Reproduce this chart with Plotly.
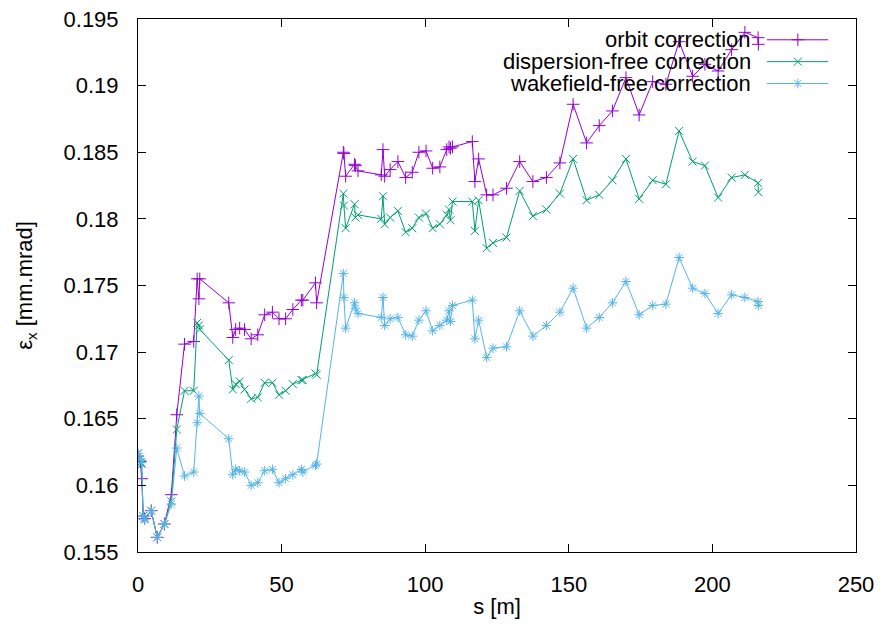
import plotly.graph_objects as go

# positions along the beamline [m]
s = [0, 0.8, 1.3, 1.8, 2.3, 4.6, 6.7, 9.2, 11.6, 13.5, 16.2, 19.4, 20.6, 21.2, 21.5,
     31.6, 33.0, 34.0, 35.4, 37.1, 39.4, 41.7, 44.1, 46.8, 49.1, 51.4, 53.9, 56.9, 57.4, 61.8, 62.2,
     71.5, 71.7, 72.3, 75.4, 75.7, 76.6, 84.7, 85.3, 85.9, 87.8, 90.5, 93.2, 95.5, 97.8, 100.3,
     102.6, 105.1, 107.5, 108.3, 108.8, 109.5, 116.4, 117.3, 118.6, 121.4, 123.6, 128.3, 132.9, 137.5,
     142.2, 146.9, 151.5, 156.2, 160.6, 165.2, 169.9, 174.5, 179.2, 183.8, 188.4, 193.1, 197.4,
     202.0, 206.7, 211.3, 215.9, 216.0]

orbit = [0.1622, 0.1618, 0.1605, 0.1577, 0.1575, 0.1581, 0.1561, 0.1571, 0.1593, 0.1653, 0.1706, 0.1708, 0.1755, 0.1740, 0.1755,
         0.1737, 0.1711, 0.1717, 0.1718, 0.1717, 0.1710, 0.1713, 0.1728, 0.1730, 0.1725, 0.1725, 0.1732, 0.1739, 0.1739, 0.1752, 0.1737,
         0.1850, 0.1849, 0.1832, 0.1841, 0.1840, 0.1836, 0.1833, 0.1852, 0.1832, 0.1837, 0.1843, 0.1831, 0.1835, 0.1850, 0.1851,
         0.1838, 0.1839, 0.1852, 0.1854, 0.1853, 0.1854, 0.1858, 0.1828, 0.1845, 0.1818, 0.1818, 0.1823, 0.1843, 0.1828,
         0.1831, 0.1842, 0.1886, 0.1857, 0.1870, 0.1881, 0.1906, 0.1878, 0.1903, 0.1901, 0.1933, 0.1907, 0.1916,
         0.1911, 0.1927, 0.1940, 0.1936, 0.1931]

dispersion_free = [0.1624, 0.1617, 0.1616, 0.1577, 0.1575, 0.1581, 0.1561, 0.1571, 0.1588, 0.1642, 0.1671, 0.1671, 0.1722, 0.1720, 0.1717,
                   0.1694, 0.1672, 0.1676, 0.1678, 0.1672, 0.1665, 0.1666, 0.1677, 0.1677, 0.1668, 0.1671, 0.1676, 0.1679, 0.1679, 0.1684, 0.1683,
                   0.1819, 0.1810, 0.1793, 0.1811, 0.1801, 0.1803, 0.1800, 0.1817, 0.1796, 0.1801, 0.1806, 0.1790, 0.1793, 0.1801, 0.1804,
                   0.1793, 0.1796, 0.1803, 0.1807, 0.1799, 0.1813, 0.1813, 0.1791, 0.1814, 0.1778, 0.1782, 0.1786, 0.1821, 0.1802,
                   0.1807, 0.1819, 0.1845, 0.1814, 0.1818, 0.1829, 0.1845, 0.1815, 0.1829, 0.1826, 0.1866, 0.1843, 0.1840,
                   0.1816, 0.1831, 0.1833, 0.1827, 0.1820]

wakefield_free = [0.1624, 0.1620, 0.1617, 0.1577, 0.1574, 0.1581, 0.1561, 0.1571, 0.1586, 0.1628, 0.1607, 0.1610, 0.1647, 0.1667, 0.1654,
                  0.1635, 0.1608, 0.1612, 0.1611, 0.1610, 0.1600, 0.1602, 0.1611, 0.1612, 0.1602, 0.1605, 0.1608, 0.1612, 0.1610, 0.1615, 0.1616,
                  0.1759, 0.1741, 0.1718, 0.1737, 0.1733, 0.1729, 0.1726, 0.1741, 0.1720, 0.1725, 0.1726, 0.1713, 0.1712, 0.1724, 0.1731,
                  0.1716, 0.1720, 0.1724, 0.1731, 0.1723, 0.1735, 0.1739, 0.1710, 0.1724, 0.1696, 0.1703, 0.1704, 0.1731, 0.1712,
                  0.1720, 0.1730, 0.1748, 0.1718, 0.1726, 0.1737, 0.1753, 0.1728, 0.1735, 0.1736, 0.1771, 0.1748, 0.1744,
                  0.1729, 0.1743, 0.1741, 0.1738, 0.1735]

names = ["orbit correction", "dispersion-free correction", "wakefield-free correction"]
colors = ["#9400D3", "#009E73", "#56B4E9"]
symbols = ["cross-thin-open", "x-thin-open", "asterisk-open"]
sizes = [9, 8, 8]
series = [orbit, dispersion_free, wakefield_free]

FONT = "Liberation Sans, Arial, sans-serif"
FS = 22
fig = go.Figure()
for name, c, sym, sz, y in zip(names, colors, symbols, sizes, series):
    fig.add_trace(go.Scatter(
        x=s, y=y, mode="lines+markers", name=name,
        line=dict(color=c, width=1),
        marker=dict(symbol=sym, size=sz, color=c, line=dict(color=c, width=1)),
        showlegend=False))

# gnuplot-style key (text left of sample), drawn on an overlay axis in plot-fraction units
key_rows = [0.961, 0.920, 0.879]
for name, c, sym, sz, yk in zip(names, colors, symbols, sizes, key_rows):
    fig.add_trace(go.Scatter(x=[0.876, 0.961], y=[yk, yk], mode="lines", xaxis="x2", yaxis="y2",
                             line=dict(color=c, width=1), showlegend=False, hoverinfo="skip"))
    fig.add_trace(go.Scatter(x=[0.919], y=[yk], mode="markers", xaxis="x2", yaxis="y2",
                             marker=dict(symbol=sym, size=sz, color=c, line=dict(color=c, width=1)),
                             showlegend=False, hoverinfo="skip"))
    fig.add_annotation(x=0.856, y=yk, xref="paper", yref="paper", text=name, showarrow=False,
                       xanchor="right", yanchor="middle", font=dict(family=FONT, size=FS, color="black"))

axis_common = dict(showline=True, linecolor="black", linewidth=1, mirror="allticks",
                   ticks="inside", ticklen=8, tickwidth=1, tickcolor="black",
                   showgrid=False, zeroline=False, automargin=False,
                   tickfont=dict(family=FONT, size=FS, color="black"))

fig.update_layout(
    width=885, height=627,
    margin=dict(l=138, r=29, t=19, b=75, autoexpand=False),
    paper_bgcolor="white", plot_bgcolor="white",
    font=dict(family=FONT, size=FS, color="black"),
    xaxis=dict(range=[0, 250], dtick=50, tick0=0, ticklabelstandoff=13,
               title=dict(text="s [m]", font=dict(family=FONT, size=FS), standoff=2),
               **axis_common),
    yaxis=dict(range=[0.155, 0.195], dtick=0.005, tick0=0.155, ticklabelstandoff=14,
               title=dict(text="ε<sub>x</sub> [mm.mrad]", font=dict(family=FONT, size=FS), standoff=24),
               **axis_common),
    xaxis2=dict(overlaying="x", range=[0, 1], visible=False, fixedrange=True),
    yaxis2=dict(overlaying="y", range=[0, 1], visible=False, fixedrange=True),
)

fig.write_html("out.html", config={"displayModeBar": False},
               post_script="document.body.style.margin='0px';document.body.style.overflow='hidden';")
